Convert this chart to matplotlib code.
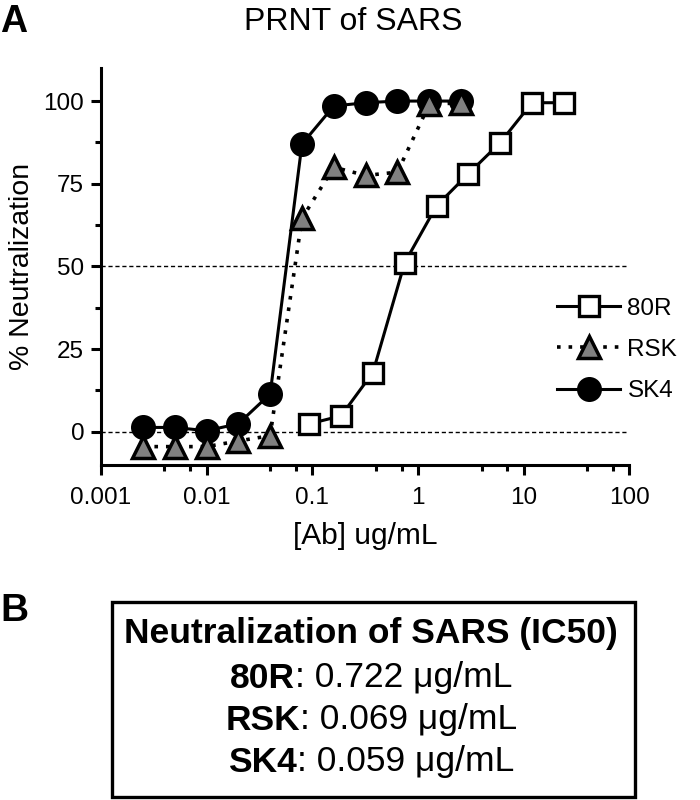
import matplotlib
matplotlib.use("Agg")
import matplotlib.pyplot as plt
from matplotlib.patches import Rectangle

plt.rcParams['font.family'] = ['Liberation Sans', 'DejaVu Sans']

# ---- data ----
conc_sk = [0.0025, 0.005, 0.01, 0.02, 0.04, 0.08, 0.16, 0.32, 0.64, 1.28, 2.56]
sk4 = [1.3, 1.3, 0.3, 2.4, 11.4, 87.0, 98.5, 99.5, 100.0, 100.0, 100.0]
rsk = [-4.5, -4.5, -4.5, -2.8, -1.2, 64.5, 80.0, 77.5, 78.5, 99.0, 99.5]

conc_80r = [0.094, 0.1875, 0.375, 0.75, 1.5, 3.0, 6.0, 12.0, 24.0]
r80 = [2.4, 4.8, 17.9, 51.1, 68.3, 78.0, 87.4, 99.5, 99.5]

x_major = [0.001, 0.01, 0.1, 1, 10, 100]
x_labels = ["0.001", "0.01", "0.1", "1", "10", "100"]
x_minor = [0.004, 0.007, 0.04, 0.07, 0.4, 0.7, 4, 7, 40, 70]
y_major = [0, 25, 50, 75, 100]
y_minor = [12.5, 37.5, 62.5, 87.5]

ic50_names = ["80R", "RSK", "SK4"]
ic50_vals = ["0.722", "0.069", "0.059"]

# ---- figure ----
fig = plt.figure(figsize=(7, 8), dpi=100)
ax = fig.add_axes([0.144, 0.419, 0.755, 0.496])

LW = 2.2
ax.axhline(50, color="black", lw=1.0, ls=(0, (3, 2)), zorder=1)
ax.axhline(0, color="black", lw=1.0, ls=(0, (3, 2)), zorder=1)

h80, = ax.plot(conc_80r, r80, color="black", lw=LW, marker="s", ms=15,
               mfc="white", mec="black", mew=2.4, zorder=3, label="80R")
hsk, = ax.plot(conc_sk, sk4, color="black", lw=LW, marker="o", ms=16,
               mfc="black", mec="black", mew=2.0, zorder=3, label="SK4")
hrsk, = ax.plot(conc_sk, rsk, color="black", lw=2.6, ls=(0, (1, 2.2)),
                marker="^", ms=16, mfc="#808080", mec="black", mew=2.5,
                zorder=4, label="RSK")

ax.set_xscale("log")
ax.set_xlim(0.001, 100)
ax.set_ylim(-10, 110)
ax.set_xticks(x_major)
ax.set_xticklabels(x_labels)
ax.set_xticks(x_minor, minor=True)
ax.set_xticklabels([], minor=True)
ax.set_yticks(y_major)
ax.set_yticks(y_minor, minor=True)

for s in ["top", "right"]:
    ax.spines[s].set_visible(False)
for s in ["left", "bottom"]:
    ax.spines[s].set_linewidth(2.2)

ax.tick_params(which="major", direction="out", length=7, width=2.2,
               labelsize=17.5)
ax.tick_params(axis="x", which="major", pad=9)
ax.tick_params(axis="y", which="major", pad=5)
ax.tick_params(which="minor", direction="out", length=4, width=2.2)

ax.set_xlabel("[Ab] ug/mL", fontsize=21.5, labelpad=9)
ax.set_ylabel("% Neutralization", fontsize=20.5, labelpad=6)

ax.legend(handles=[h80, hrsk, hsk], loc="center left",
          bbox_to_anchor=(557 / 700, 1 - 350 / 800),
          bbox_transform=fig.transFigure, frameon=False, fontsize=17.5,
          handlelength=2.6, handletextpad=0.3, labelspacing=0.8,
          borderpad=0, borderaxespad=0, numpoints=1)

fig.text(353 / 700, 1 - 22 / 800, "PRNT of SARS", ha="center", va="center",
         fontsize=23)
fig.text(0 / 700, 1 - 22 / 800, "A", ha="left", va="center", fontsize=27,
         fontweight="bold")
fig.text(0 / 700, 1 - 611 / 800, "B", ha="left", va="center", fontsize=28,
         fontweight="bold")

# ---- panel B: IC50 box ----
fig.patches.append(Rectangle((112 / 700, 3 / 800), 523 / 700, 195 / 800,
                             transform=fig.transFigure, fill=False,
                             edgecolor="black", lw=2.4))
cx = 371 / 700
fig.text(cx, 1 - 633 / 800, "Neutralization of SARS (IC50)", ha="center",
         va="center", fontsize=25.5, fontweight="bold")

fig.canvas.draw()
renderer = fig.canvas.get_renderer()
rows_y = [678, 720, 762]
for name, val, yp in zip(ic50_names, ic50_vals, rows_y):
    t1 = fig.text(0, 1 - yp / 800, name, ha="left", va="center",
                  fontsize=25.5, fontweight="bold")
    t2 = fig.text(0, 1 - yp / 800, ": " + val + " \u03bcg/mL", ha="left",
                  va="center", fontsize=25.5)
    w1 = t1.get_window_extent(renderer).width
    w2 = t2.get_window_extent(renderer).width
    left = cx * 700 - (w1 + w2) / 2
    t1.set_x(left / 700)
    t2.set_x((left + w1) / 700)

fig.savefig("out.png", dpi=100)
